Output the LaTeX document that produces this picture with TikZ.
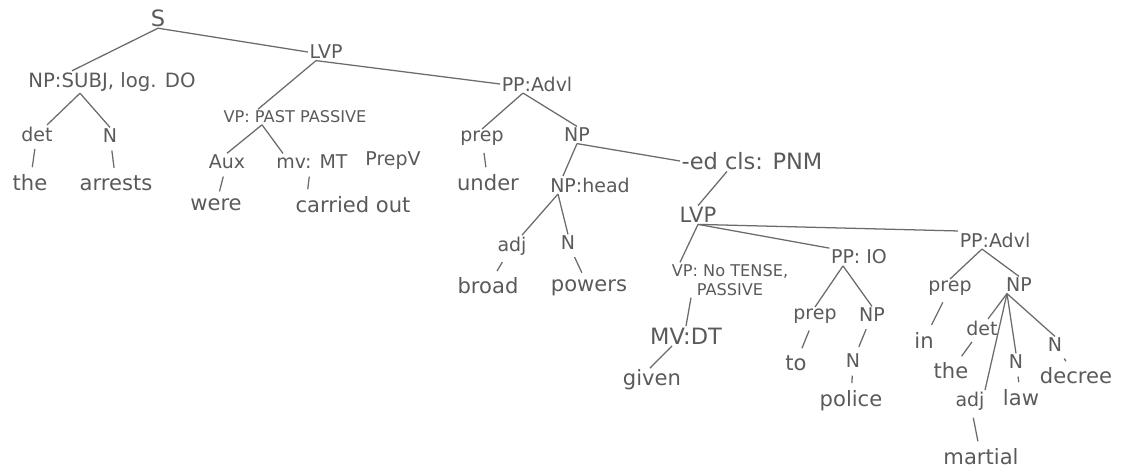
\documentclass[tikz,border=0pt]{standalone}
\usepackage{fontspec}
\setmainfont{DejaVu Sans}
\usepackage{xcolor}
\usetikzlibrary{calc}
\definecolor{pencil}{HTML}{5A5A5A}

\begin{document}
\begin{tikzpicture}[x=0.025cm,y=-0.025cm,
  cat/.style={font=\fontsize{13.5}{15}\selectfont,text=pencil,inner sep=1pt,align=center},
  sml/.style={cat,font=\fontsize{11.5}{14}\selectfont},
  big/.style={cat,font=\fontsize{16}{18}\selectfont},
  wd/.style={font=\fontsize{15}{17}\selectfont,text=pencil,inner sep=1pt},
  br/.style={draw=pencil!90,line width=0.9pt},
  tk/.style={br,shorten <=1.5mm,shorten >=1.5mm}]
  \useasboundingbox (0,0) rectangle (1121,470);
  % top of the tree
  \node[big] (s) at (158,18) {S};
  \node[cat] (lvp) at (326,52) {LVP};
  \node[cat,font=\fontsize{14}{16}\selectfont] (npsubj) at (112,82) {NP:SUBJ, log. DO};
  \node[cat] (det1) at (37,134) {det};
  \node[cat] (n1) at (110,136) {N};
  \node[wd] (the1) at (30,183) {the};
  \node[wd] (arrests) at (116,183) {arrests};
  \draw[br] (s.south) -- ($(npsubj.north)+(-40,0)$);
  \draw[br] (s.south) -- (lvp.west);
  \draw[br] ($(npsubj.south)+(-32,0)$) -- ($(det1.north)+(10,0)$);
  \draw[br] ($(npsubj.south)+(-32,0)$) -- (n1.north);
  \draw[tk] (det1) -- (the1);
  \draw[tk] (n1) -- (arrests);
  % VP: past passive
  \node[sml] (vppp) at (295,117) {VP: PAST PASSIVE};
  \node[cat] (aux) at (227,162) {Aux};
  \node[cat] (mvmt) at (312,162) {mv: MT};
  \node[cat] (prepv) at (393,161) {PrepV};
  \node[wd] (were) at (216,205) {were};
  \node[wd] (carried) at (353,205) {carried out};
  \draw[br] ($(lvp.south)+(-10,0)$) -- ($(vppp.north)+(-37,0)$);
  \draw[br] ($(vppp.south)+(-33,0)$) -- (aux.north);
  \draw[br] ($(vppp.south)+(-33,0)$) -- ($(mvmt.north)+(-29,0)$);
  \draw[tk] (aux) -- (were);
  \draw[tk] ($(mvmt.south)+(-2,0)$) -- ($(carried.north)+(-46,0)$);
  % PP: Advl
  \node[cat] (ppadvl) at (537,84) {PP:Advl};
  \node[cat] (prep1) at (482,138) {prep};
  \node[cat] (np1) at (577,135) {NP};
  \node[wd] (under) at (488,183) {under};
  \node[cat] (nphead) at (590,185) {NP:head};
  \node[cat] (adj1) at (512,246) {adj};
  \node[cat] (n2) at (568,243) {N};
  \node[wd] (broad) at (488,286) {broad};
  \node[wd] (powers) at (589,288) {powers};
  \draw[br] ($(lvp.south)+(-10,0)$) -- (ppadvl.west);
  \draw[br] ($(ppadvl.south)+(-14,0)$) -- (prep1.north);
  \draw[br] ($(ppadvl.south)+(-14,0)$) -- (np1.north);
  \draw[tk] (prep1) -- (under);
  \draw[br] (np1.south) -- ($(nphead.north)+(-27,0)$);
  \draw[br] ($(nphead.south)+(-32,0)$) -- ($(adj1.north)+(10,0)$);
  \draw[br] ($(nphead.south)+(-32,0)$) -- (n2.north);
  \draw[tk] (adj1) -- (broad);
  \draw[tk] (n2) -- (powers);
  % -ed clause
  \node[big] (edcls) at (752,161) {-ed cls: PNM};
  \node[cat,font=\fontsize{15}{17}\selectfont] (lvp2) at (698,215) {LVP};
  \node[sml] (vpnt) at (730,280) {VP: No TENSE,\\PASSIVE};
  \node[big] (mvdt) at (686,336) {MV:DT};
  \node[wd] (given) at (652,380) {given};
  \draw[br] (np1.south) -- (edcls.west);
  \draw[br] ($(edcls.south)+(-25,0)$) -- (lvp2.north);
  \draw[br] (lvp2.south) -- ($(vpnt.north)+(-50,0)$);
  \draw[br] ($(vpnt.south)+(-39,0)$) -- (mvdt.north);
  \draw[br] ($(mvdt.south)+(-14,0)$) -- ($(given.north)+(-2,0)$);
  % PP: IO
  \node[cat] (ppio) at (859,257) {PP: IO};
  \node[cat] (prep2) at (815,316) {prep};
  \node[cat] (np2) at (872,315) {NP};
  \node[wd] (to) at (796,363) {to};
  \node[cat] (n3) at (853,361) {N};
  \node[wd] (police) at (851,401) {police};
  \draw[br] (lvp2.south) -- (ppio.north west);
  \draw[br] ($(ppio.south)+(-16,0)$) -- (prep2.north);
  \draw[br] ($(ppio.south)+(-16,0)$) -- (np2.north);
  \draw[tk] (prep2) -- (to);
  \draw[tk] (np2) -- (n3);
  \draw[tk] (n3) -- (police);
  % PP: Advl (in martial law decree)
  \node[cat] (ppadvl2) at (995,240) {PP:Advl};
  \node[cat] (prep3) at (950,288) {prep};
  \node[cat] (np3) at (1019,285) {NP};
  \node[wd] (in) at (924,340) {in};
  \node[cat] (det2) at (982,328) {det};
  \node[wd] (the2) at (951,371) {the};
  \node[cat] (adj2) at (970,401) {adj};
  \node[wd] (martial) at (981,457) {martial};
  \node[cat] (n4) at (1016,362) {N};
  \node[wd] (law) at (1021,398) {law};
  \node[cat] (n5) at (1055,345) {N};
  \node[wd] (decree) at (1076,376) {decree};
  \draw[br] (lvp2.south) -- (ppadvl2.north west);
  \draw[br] ($(ppadvl2.south)+(-13,0)$) -- (prep3.north);
  \draw[br] ($(ppadvl2.south)+(-13,0)$) -- (np3.north);
  \draw[tk] (prep3) -- (in);
  \draw[br] ($(np3.south)+(-12,0)$) -- ($(det2.north)+(6,0)$);
  \draw[br] ($(np3.south)+(-12,0)$) -- ($(adj2.north)+(15,0)$);
  \draw[br] ($(np3.south)+(-12,0)$) -- (n4.north);
  \draw[br] ($(np3.south)+(-12,0)$) -- (n5.north);
  \draw[tk] (det2) -- (the2);
  \draw[tk] (adj2) -- (martial);
  \draw[tk] (n4) -- (law);
  \draw[tk] (n5) -- (decree);
\end{tikzpicture}
\end{document}
